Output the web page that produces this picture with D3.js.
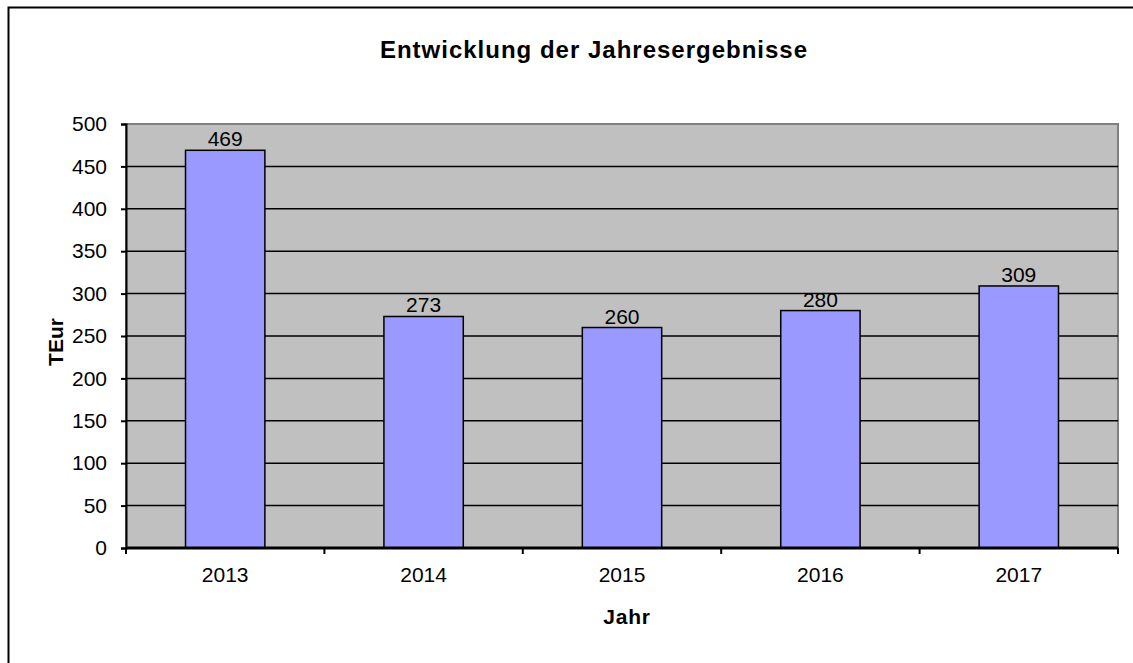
<!DOCTYPE html>
<html>
<head>
<meta charset="utf-8">
<script src="https://cdn.jsdelivr.net/npm/d3@7/dist/d3.min.js"></script>
<style>
  body { margin: 0; background: #fff; }
  text { font-family: "Liberation Sans", Arial, sans-serif; }
</style>
</head>
<body>
<script>
var years = ['2013', '2014', '2015', '2016', '2017']
var results = [469, 273, 260, 280, 309]
var yTicks = [0, 50, 100, 150, 200, 250, 300, 350, 400, 450, 500]

var W = 1133, H = 663
var plotLeft = 126, plotRight = 1118, plotTop = 124, plotBottom = 548

var svg = d3.select('body').append('svg')
  .attr('width', W)
  .attr('height', H)

// outer frame (runs off the right and bottom edge)
svg.append('rect')
  .attr('x', 8.5).attr('y', 7.5)
  .attr('width', W + 20).attr('height', H + 20)
  .attr('fill', '#fff')
  .attr('stroke', '#000')
  .attr('stroke-width', 2)

var x = d3.scaleBand().domain(years).range([plotLeft, plotRight]).paddingInner(0.6).paddingOuter(0.3)
var xb = d3.scaleBand().domain(years).range([plotLeft, plotRight])
var y = d3.scaleLinear().domain([0, 500]).range([plotBottom, plotTop])

// plot background
svg.append('rect')
  .attr('x', plotLeft).attr('y', plotTop)
  .attr('width', plotRight - plotLeft).attr('height', plotBottom - plotTop)
  .attr('fill', '#c0c0c0')
  .attr('stroke', '#808080')
  .attr('stroke-width', 2)

// gridlines
svg.append('g').selectAll('line')
  .data(yTicks.filter(function(d) { return d > 0 && d < 500 }))
  .enter().append('line')
  .attr('x1', plotLeft).attr('x2', plotRight)
  .attr('y1', function(d) { return y(d) }).attr('y2', function(d) { return y(d) })
  .attr('stroke', '#000')
  .attr('stroke-width', 1.5)

// bars
svg.append('g').selectAll('rect')
  .data(results)
  .enter().append('rect')
  .attr('x', function(d, i) { return x(years[i]) })
  .attr('y', function(d) { return y(d) })
  .attr('width', x.bandwidth())
  .attr('height', function(d) { return y(0) - y(d) })
  .attr('fill', '#9999ff')
  .attr('stroke', '#000')
  .attr('stroke-width', 1.5)

// value labels
svg.append('g').selectAll('text')
  .data(results)
  .enter().append('text')
  .attr('x', function(d, i) { return x(years[i]) + x.bandwidth() / 2 })
  .attr('y', function(d) { return y(d) - 4 })
  .attr('text-anchor', 'middle')
  .attr('font-size', 21)
  .text(function(d) { return d })

// y axis
var yAxis = svg.append('g')
  .attr('transform', 'translate(' + plotLeft + ',0)')
  .call(d3.axisLeft(y).tickValues(yTicks).tickSize(5).tickPadding(14))
yAxis.select('.domain').attr('stroke-width', 2)
yAxis.selectAll('.tick line').attr('stroke-width', 2)
yAxis.selectAll('text').attr('font-size', 21).attr('fill', '#000')
  .style('font-family', '"Liberation Sans", Arial, sans-serif')

// x axis with ticks at the category boundaries
var xAxis = svg.append('g')
  .attr('transform', 'translate(0,' + plotBottom + ')')
xAxis.append('line')
  .attr('x1', plotLeft).attr('x2', plotRight)
  .attr('stroke', '#000').attr('stroke-width', 3)
xAxis.selectAll('line.tk')
  .data(years.concat(['end']))
  .enter().append('line')
  .attr('class', 'tk')
  .attr('x1', function(d) { return d === 'end' ? plotRight : xb(d) })
  .attr('x2', function(d) { return d === 'end' ? plotRight : xb(d) })
  .attr('y1', 0).attr('y2', 6)
  .attr('stroke', '#000').attr('stroke-width', 2)
xAxis.selectAll('text')
  .data(years)
  .enter().append('text')
  .attr('x', function(d) { return xb(d) + xb.bandwidth() / 2 })
  .attr('y', 34)
  .attr('text-anchor', 'middle')
  .attr('font-size', 21)
  .text(function(d) { return d })

// titles
svg.append('text')
  .attr('x', 594).attr('y', 58)
  .attr('text-anchor', 'middle')
  .attr('font-size', 24)
  .attr('font-weight', 'bold')
  .attr('letter-spacing', 1)
  .text('Entwicklung der Jahresergebnisse')

svg.append('text')
  .attr('x', 627).attr('y', 624)
  .attr('text-anchor', 'middle')
  .attr('font-size', 21)
  .attr('font-weight', 'bold')
  .attr('letter-spacing', 0.8)
  .text('Jahr')

svg.append('text')
  .attr('transform', 'translate(63,342) rotate(-90)')
  .attr('text-anchor', 'middle')
  .attr('font-size', 21)
  .attr('font-weight', 'bold')
  .text('TEur')
</script>
</body>
</html>
